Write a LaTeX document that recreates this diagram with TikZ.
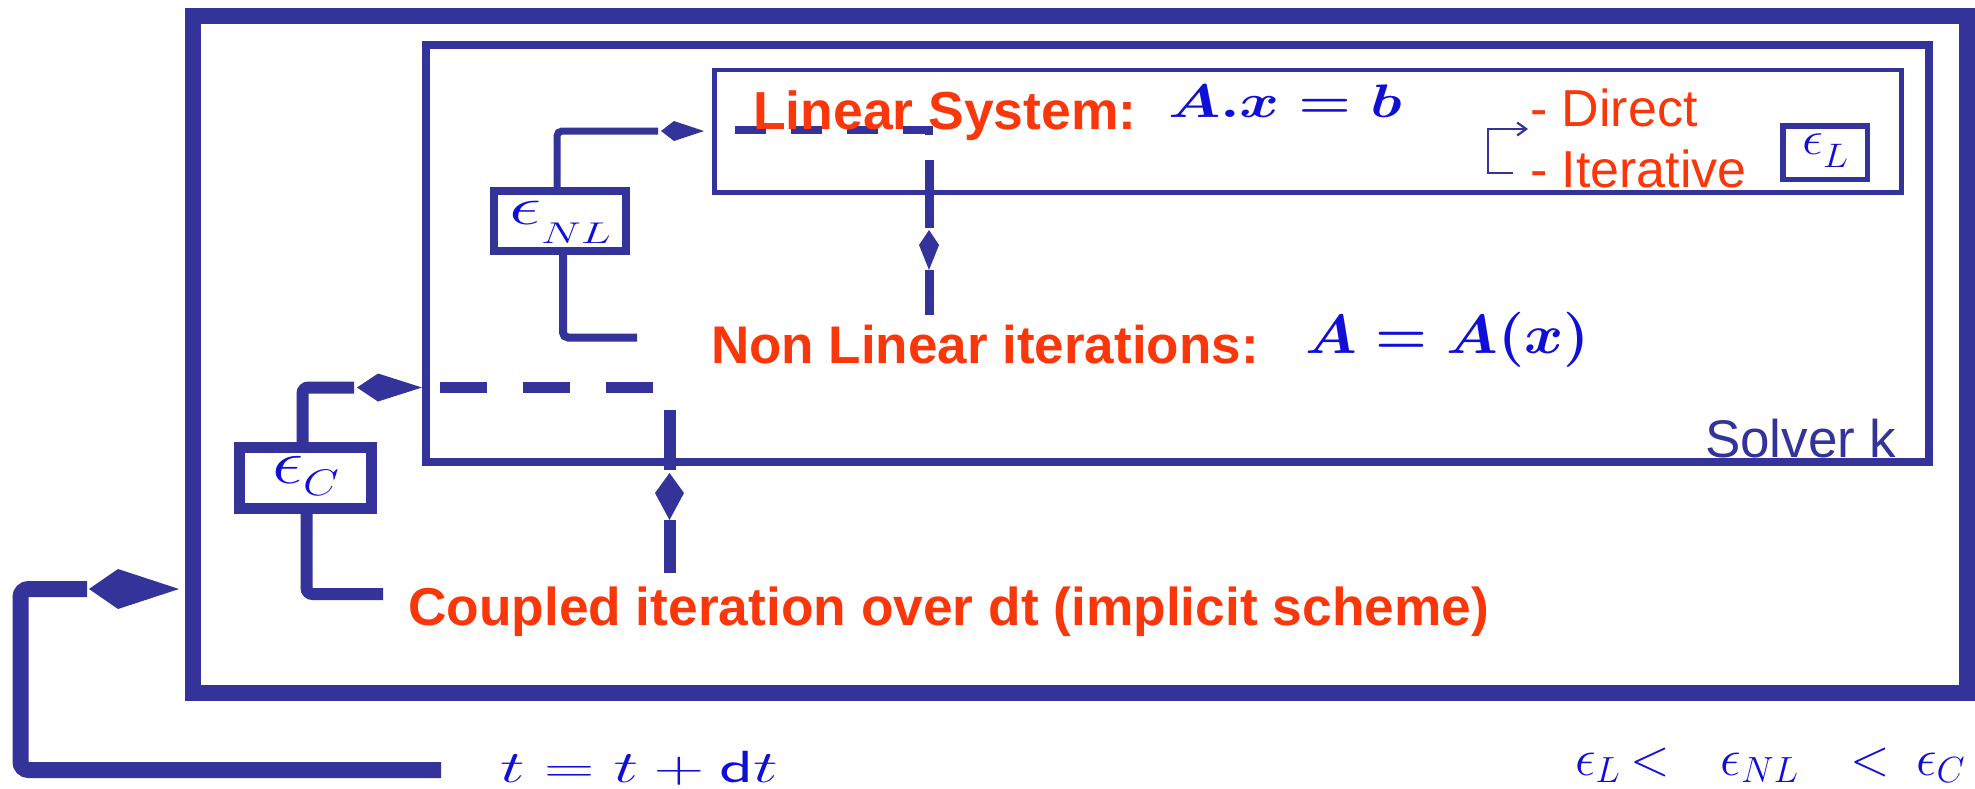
\documentclass[tikz,border=0pt]{standalone}
\usepackage{fix-cm}
\usepackage[no-math]{fontspec}
\usepackage{graphicx}
\usetikzlibrary{arrows.meta}
\newfontfamily\arial{Liberation Sans}
\definecolor{lblue}{RGB}{51,51,153}
\definecolor{tred}{RGB}{250,55,10}
\definecolor{mblue}{RGB}{15,15,215}
\newcommand{\bigeps}[1]{\scalebox{#1}{$\epsilon$}}
\begin{document}
\begin{tikzpicture}[x=1pt,y=-1pt,
  box/.style={draw=lblue, inner sep=0pt, outer sep=0pt},
  epsbox/.style={box, text=mblue, align=center},
  wire/.style={draw=lblue, line cap=butt, line join=miter},
  kitefill/.style={fill=lblue, draw=none},
  txt/.style={inner sep=0pt, outer sep=0pt, anchor=base west},
  redbold/.style={txt, text=tred, font={\arial\bfseries\fontsize{53.5}{62}\selectfont}},
  redreg/.style={txt, text=tred, font={\arial\fontsize{52}{60}\selectfont}},
  mathtxt/.style={txt, text=mblue},
]
\useasboundingbox (0,0) rectangle (1975,788);

% boxes
\node[box, line width=16pt, minimum width=1773.5pt, minimum height=677.5pt] (outer) at (1079.75,354.25) {};
\node[box, line width=8pt, minimum width=1503pt, minimum height=417.5pt] (solver) at (1177,253.25) {};
\node[box, line width=4.5pt, minimum width=1187pt, minimum height=122.5pt] (ls) at (1308,131.25) {};

% epsilon boxes
\node[epsbox, line width=8pt, minimum width=132pt, minimum height=60pt, text height=24pt, text depth=18pt] (enl) at (560,221)
  {\scalebox{1.5}[1]{\fontsize{30}{36}\selectfont\bigeps{1.8}\raisebox{-19pt}{$NL$}}};
\node[epsbox, line width=11pt, minimum width=132pt, minimum height=61pt, text height=30pt, text depth=20pt] (ec) at (305.5,478)
  {\scalebox{1.25}[1]{\fontsize{37}{44}\selectfont\bigeps{1.7}\raisebox{-12pt}{$C$}}};
\node[epsbox, line width=5.5pt, minimum width=84.5pt, minimum height=53.5pt, text height=24pt, text depth=21pt] (el) at (1825,152.5)
  {\scalebox{1.1}[1]{\fontsize{30}{36}\selectfont\bigeps{1.6}\raisebox{-13pt}{\fontsize{34}{40}\selectfont$L$}}};

% dashed connector inside the linear system box
\draw[wire, line width=8pt, dash pattern=on 31pt off 25pt] (735,130) -- (929,130) -- (929,140);

% texts
\node[redbold] (lstxt) at (753,129) {Linear System:};
\node[mathtxt] (lsmath) at (1168,117) {\fontsize{47}{56}\selectfont\scalebox{1.28}[1]{\boldmath$A.x = b$}};
\node[redreg] (direct) at (1530,126) {- Direct};
\node[redreg] (iter) at (1530,187) {- Iterative};
\node[txt, text=tred, font={\arial\bfseries\fontsize{53}{62}\selectfont}] (nltxt) at (711,363) {Non Linear iterations:};
\node[mathtxt] (nlmath) at (1305,353) {\fontsize{55}{64}\selectfont\scalebox{1.08}[1]{\boldmath$A = A(x)$}};
\node[txt, text=tred, font={\arial\bfseries\fontsize{53.3}{62}\selectfont}] (ctxt) at (408,625) {Coupled iteration over dt (implicit scheme)};
\node[txt, text=lblue, font={\arial\fontsize{53}{62}\selectfont}] (solvtxt) at (1705,457) {Solver k};
\node[mathtxt] (tdt) at (500,782) {\fontsize{45}{54}\selectfont\scalebox{1.55}[1]{$t = t + \mathsf{d}t$}};
\node[mathtxt] (ineq) at (1575,775) {\fontsize{52}{60}\selectfont$\epsilon_L\hspace{10pt}{<}\hspace{51pt}\epsilon_{NL}\hspace{52pt}{<}\hspace{26pt}\epsilon_C$};

% small arrow Direct / Iterative
\coordinate (sa1) at (1513,173);
\coordinate (sa2) at (1528,129);
\draw[wire, line width=2.2pt, -{Straight Barb[length=9pt,width=13pt]}] (sa1) -- (1488,173) -- (1488,129) -- (sa2);

% NL connectors
\coordinate (k1) at (661,131);
\draw[wire, line width=7pt, rounded corners=5pt] ([xshift=-3pt]enl.north) |- ([xshift=-3pt]k1);
\fill[kitefill] (k1) -- (674,121) -- (704,131) -- (674,141) -- cycle;
\draw[wire, line width=8pt, rounded corners=5pt] ([xshift=3pt]enl.south) |- (637,337.5);
\draw[wire, line width=9pt] (929,160) -- (929,228);
\fill[kitefill] (929,230) -- (939,245) -- (929,270) -- (919,245) -- cycle;
\draw[wire, line width=9pt] (929,270) -- (929,315);

% coupled connectors
\coordinate (k2) at (357,387.5);
\draw[wire, line width=12pt, rounded corners=6pt] ([xshift=-3pt]ec.north) |- ([xshift=-3pt]k2);
\fill[kitefill] (k2) -- (378,373.5) -- (422,387.5) -- (378,401.5) -- cycle;
\draw[wire, line width=11pt, dash pattern=on 47pt off 36pt] (440,387.5) -- (656,387.5);
\draw[wire, line width=12pt] (669.5,410) -- (669.5,470);
\fill[kitefill] (669.5,473) -- (684,493) -- (669.5,520) -- (655,493) -- cycle;
\draw[wire, line width=12pt] (669.5,520) -- (669.5,573);
\draw[wire, line width=12pt, rounded corners=6pt] ([xshift=1pt]ec.south) |- (383,594);

% time loop
\coordinate (k3) at (89,589);
\draw[wire, line width=16pt, rounded corners=8pt] ([xshift=-2pt]k3) -- (20.5,589) -- (20.5,770) -- (441,770);
\fill[kitefill] (k3) -- (118,569) -- (179,589) -- (118,609) -- cycle;
\end{tikzpicture}
\end{document}
